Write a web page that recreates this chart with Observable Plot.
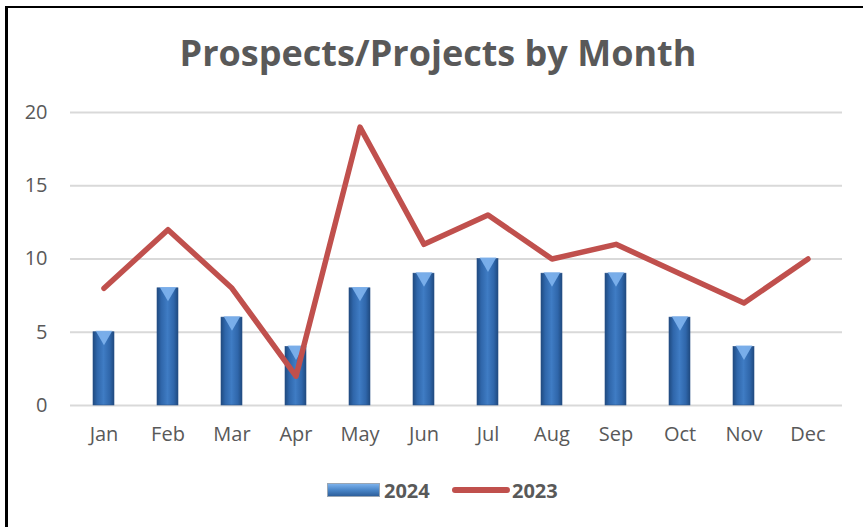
<!DOCTYPE html>
<html>
<head>
<meta charset="utf-8">
<script src="https://cdn.jsdelivr.net/npm/d3@7"></script>
<script src="https://cdn.jsdelivr.net/npm/@observablehq/plot@0.6"></script>
<style>
  html, body { margin: 0; padding: 0; background: #fff; width: 863px; height: 527px; overflow: hidden; }
  #frame { position: absolute; left: 5px; top: 6px; width: 900px; height: 600px; border-left: 3px solid #000; border-top: 2px solid #000; box-sizing: border-box; }
  #title { position: absolute; left: 0; width: 876px; top: 28px; text-align: center; font-family: "Open Sans", sans-serif; font-weight: bold; font-size: 36px; line-height: 50px; color: #595959; }
  #chart { position: absolute; left: 0; top: 80px; }
  #legend { position: absolute; top: 478px; left: 0; width: 863px; font-family: "Open Sans", sans-serif; font-weight: bold; font-size: 20px; color: #595959; }
  .item { position: absolute; top: 0; display: flex; align-items: center; height: 24px; }
</style>
</head>
<body>
<div id="frame"></div>
<div id="title">Prospects/Projects by Month</div>
<div id="chart"></div>
<div id="legend">
  <div class="item" style="left:327px;">
    <svg width="53" height="16" style="margin-right:4px">
      <defs>
        <linearGradient id="legGrad" x1="0" y1="0" x2="0" y2="1">
          <stop offset="0" stop-color="#7fb4ee"/>
          <stop offset="0.5" stop-color="#4a86c8"/>
          <stop offset="1" stop-color="#2b5c98"/>
        </linearGradient>
      </defs>
      <rect x="0.5" y="1.5" width="52" height="13" fill="url(#legGrad)" stroke="#9aa6b4" stroke-width="1"/>
    </svg>
    <span>2024</span>
  </div>
  <div class="item" style="left:451px;">
    <svg width="60" height="16" style="margin-right:1px">
      <line x1="4" y1="8" x2="56" y2="8" stroke="#c0504d" stroke-width="6" stroke-linecap="round"/>
    </svg>
    <span>2023</span>
  </div>
</div>
<script>
const months = ["Jan","Feb","Mar","Apr","May","Jun","Jul","Aug","Sep","Oct","Nov","Dec"];
const values2024 = [5, 8, 6, 4, 8, 9, 10, 9, 9, 6, 4, null];
const values2023 = [8, 12, 8, 2, 19, 11, 13, 10, 11, 9, 7, 10];
const yTicks = [0, 5, 10, 15, 20];

const bars = months.map((m, i) => ({month: m, value: values2024[i]})).filter(d => d.value != null);
const line = months.map((m, i) => ({month: m, value: values2023[i]}));

const plot = Plot.plot({
  width: 863,
  height: 380,
  marginLeft: 70,
  marginRight: 21,
  marginTop: 32,
  marginBottom: 55,
  style: { fontFamily: "'Open Sans', sans-serif", fontSize: "20px", color: "#595959", background: "transparent", overflow: "visible" },
  x: { domain: months, paddingInner: 0.67, paddingOuter: 0.335, tickSize: 0, tickPadding: 21, label: null },
  y: { domain: [0, 20], ticks: yTicks, tickSize: 0, tickPadding: 23, label: null },
  marks: [
    Plot.ruleY(yTicks, { stroke: "#d9d9d9", strokeWidth: 2 }),
    Plot.barY(bars, { x: "month", y: "value", fill: "url(#barGrad)", stroke: "#2a5288", strokeWidth: 0.6 }),
    Plot.dot(bars, { x: "month", y: "value", symbol: "triangle", rotate: 180, r: 6.2, dy: 3.4, fill: "#7fb4ee", fillOpacity: 0.9 }),
    Plot.line(line, { x: "month", y: "value", stroke: "#c0504d", strokeWidth: 5.5, strokeLinecap: "round", strokeLinejoin: "round" })
  ]
});

const svg = d3.select(plot);
const defs = svg.insert("defs", ":first-child");
const g = defs.append("linearGradient").attr("id", "barGrad").attr("x1", 0).attr("y1", 0).attr("x2", 1).attr("y2", 0);
g.append("stop").attr("offset", 0).attr("stop-color", "#1f4a80");
g.append("stop").attr("offset", 0.2).attr("stop-color", "#2f66aa");
g.append("stop").attr("offset", 0.5).attr("stop-color", "#3f7cc4");
g.append("stop").attr("offset", 0.8).attr("stop-color", "#2f66aa");
g.append("stop").attr("offset", 1).attr("stop-color", "#1f4a80");
svg.selectAll("path").filter(function() { return this.getAttribute("stroke") === "#c0504d"; })
  .style("filter", "drop-shadow(1px 2px 1.5px rgba(0,0,0,0.3))");
svg.selectAll("text").attr("fill", "#595959");

document.getElementById("chart").appendChild(plot);
</script>
</body>
</html>
